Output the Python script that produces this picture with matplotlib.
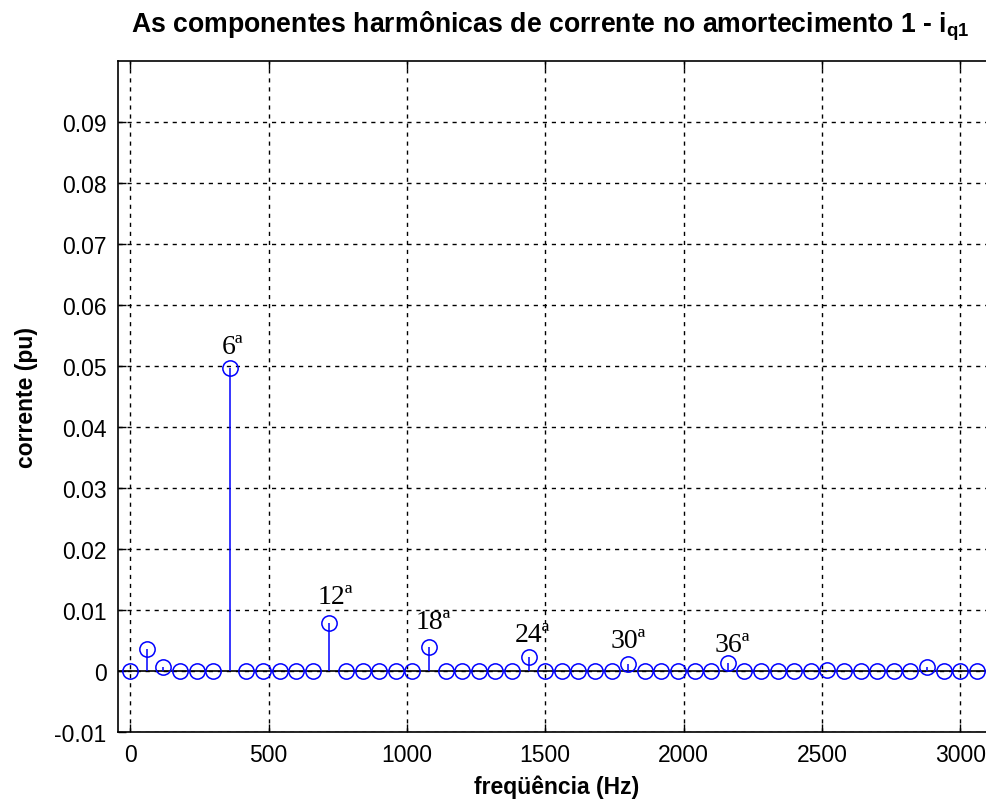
import numpy as np
import matplotlib
matplotlib.use("Agg")
import matplotlib.pyplot as plt

plt.rcParams['font.family'] = ['Liberation Sans', 'DejaVu Sans']
plt.rcParams['mathtext.fontset'] = 'custom'
plt.rcParams['mathtext.rm'] = 'Liberation Sans'
plt.rcParams['mathtext.bf'] = 'Liberation Sans:bold'

# frequencias (Hz), multiplos de 60 Hz
frequencia = np.arange(0, 3061, 60)

# amplitudes das componentes (pu)
corrente = np.zeros(len(frequencia))
corrente[1] = 0.0036    # 60 Hz
corrente[2] = 0.0007    # 120 Hz
corrente[6] = 0.0497    # 360 Hz
corrente[12] = 0.0078   # 720 Hz
corrente[18] = 0.0039   # 1080 Hz
corrente[24] = 0.0023   # 1440 Hz
corrente[30] = 0.0011   # 1800 Hz
corrente[36] = 0.0013   # 2160 Hz
corrente[42] = 0.0002   # 2520 Hz
corrente[48] = 0.0007   # 2880 Hz

# rotulos das harmonicas
rotulos = ['6ª', '12ª', '18ª', '24ª', '30ª', '36ª']
rotulos_x = [369, 741, 1094, 1455, 1800, 2176]
rotulos_y = [0.0521, 0.0111, 0.0070, 0.0050, 0.0039, 0.0032]

fig = plt.figure(figsize=(9.87, 8.04), dpi=100)
ax = fig.add_axes([0.1193, 0.0883, 0.89, 0.8346])

# linhas de grade tracejadas
ax.grid(True, color='black', linestyle=(0, (3, 3.5)), linewidth=1.0)
ax.set_axisbelow(True)

# linha de base
ax.axhline(0, color='black', linewidth=1.2, zorder=2)

# hastes
ax.vlines(frequencia, 0, corrente, colors='blue', linewidth=1.1, zorder=3)
ax.plot(frequencia, corrente, linestyle='none', marker='o', markersize=11,
        markerfacecolor='none', markeredgecolor='blue', markeredgewidth=1.1,
        zorder=4)

for texto, x, y in zip(rotulos, rotulos_x, rotulos_y):
    ax.text(x, y, texto, family='Liberation Serif', fontsize=20,
            ha='center', va='baseline', zorder=5)

ax.set_xlim(-45, 3130)
ax.set_ylim(-0.01, 0.1)
ax.set_xticks(np.arange(0, 3001, 500))
ax.set_yticks(np.round(np.arange(-0.01, 0.0901, 0.01), 2))
ax.set_yticklabels(['%g' % v if v != 0 else '0' for v in
                    np.round(np.arange(-0.01, 0.0901, 0.01), 2)])
ax.tick_params(direction='in', length=6, width=1, labelsize=16.5,
               top=True, right=True, pad=8)
for s in ax.spines.values():
    s.set_linewidth(1.2)

ax.set_xlabel('freqüência (Hz)', fontsize=16.5, fontweight='bold', labelpad=6)
ax.set_ylabel('corrente (pu)', fontsize=16.5, fontweight='bold', labelpad=12)
ax.set_title(r'As componentes harmônicas de corrente no amortecimento 1 - i$_{\mathbf{q1}}$',
             fontsize=19.2, fontweight='bold', pad=21, x=0.492)

fig.savefig('out.png', dpi=100)
